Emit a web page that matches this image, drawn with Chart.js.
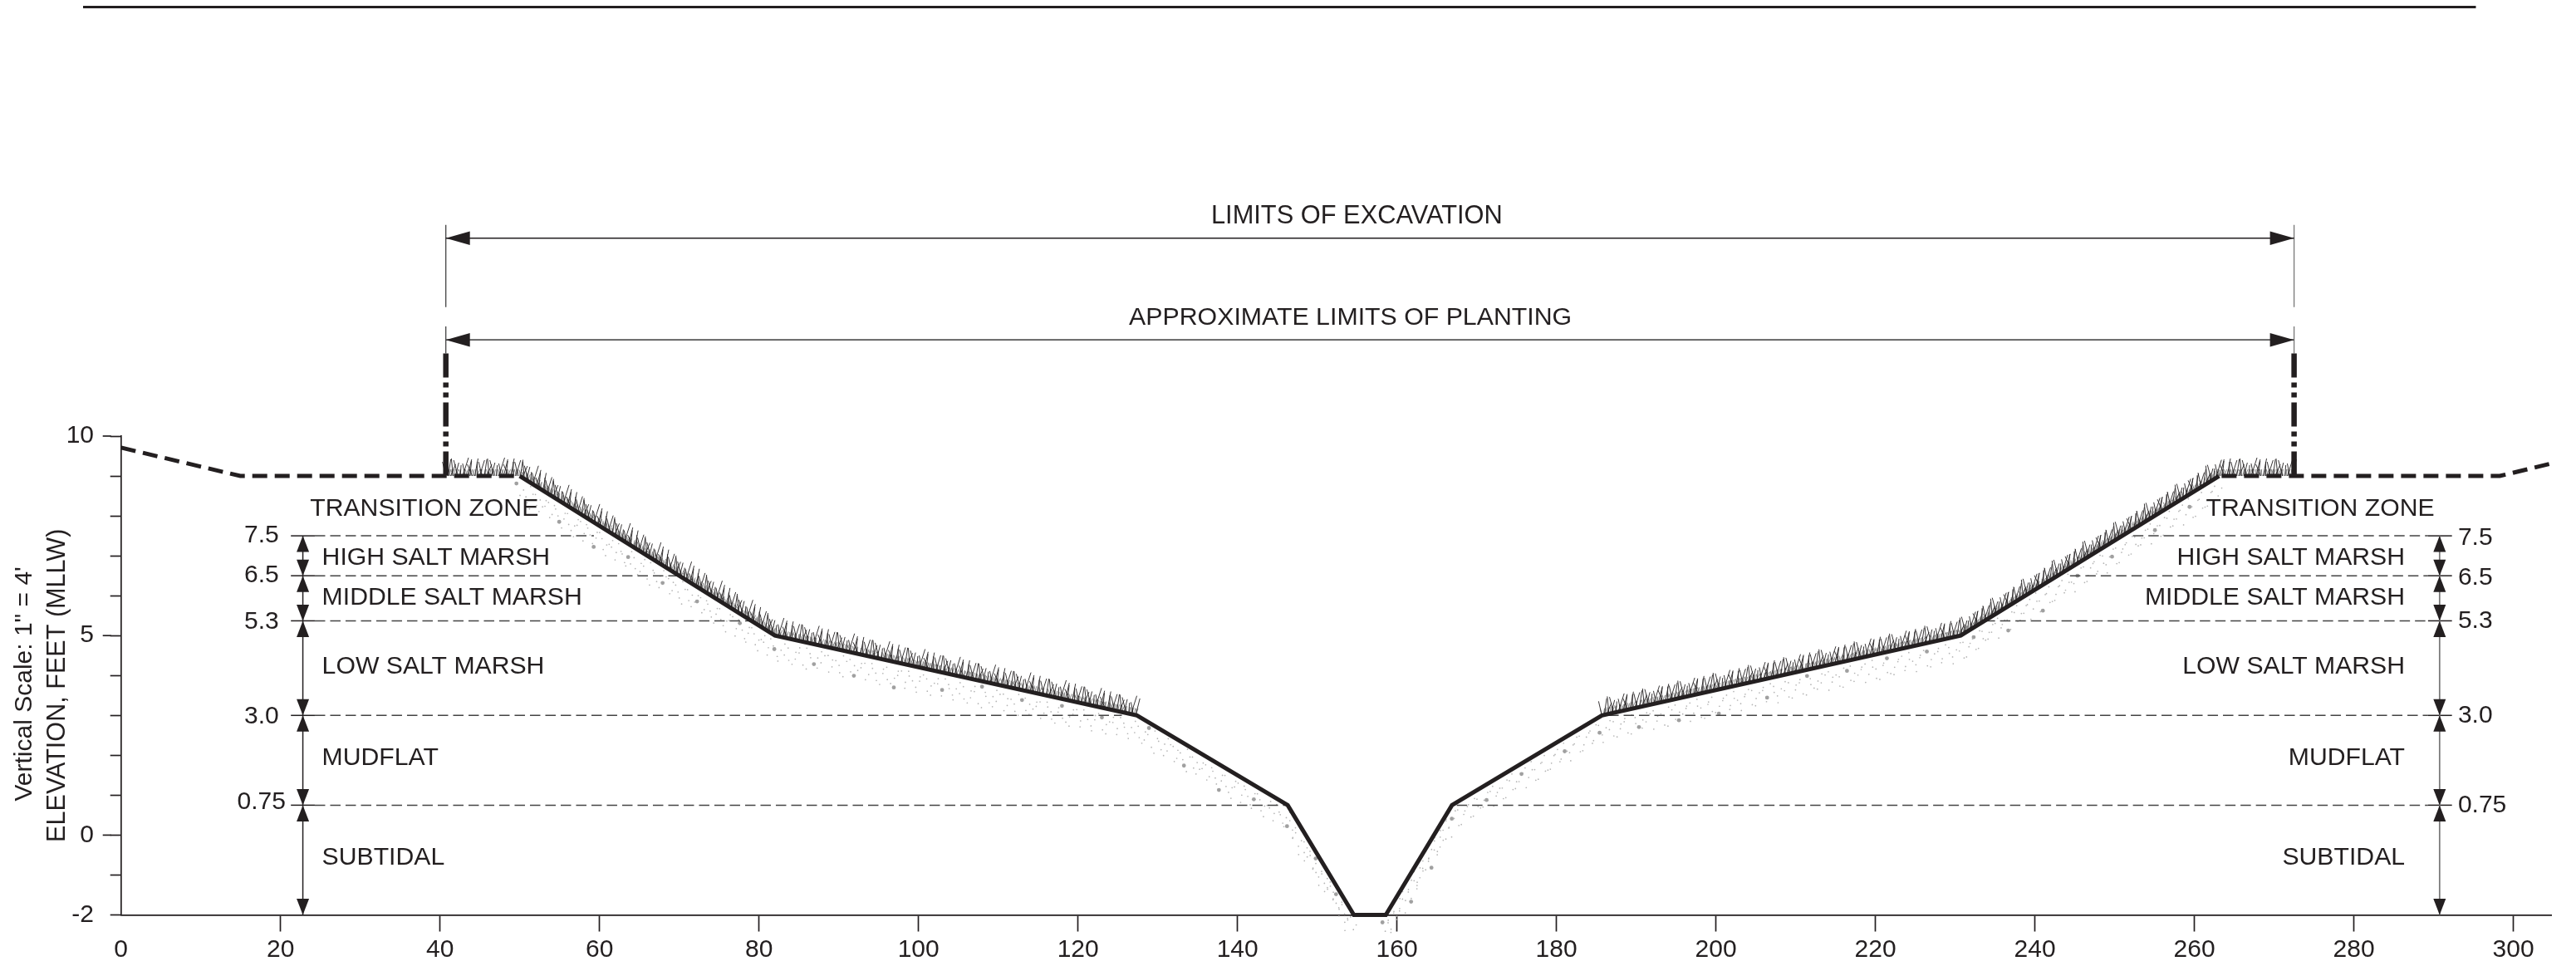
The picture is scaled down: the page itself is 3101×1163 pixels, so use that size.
<!DOCTYPE html>
<html>
<head>
<meta charset="utf-8">
<title>Marsh cross section</title>
<style>
    html, body { margin: 0; padding: 0; background: #fff; }
    canvas { display: block; }
</style>
<script src="https://cdn.jsdelivr.net/npm/chart.js@4"></script>
</head>
<body>
<canvas id="sectionChart" width="3101" height="1163" style="width:3101px;height:1163px"></canvas>
<script>
// Ground profile, feet along section / elevation in feet MLLW
const profileX = [50, 82, 127.4, 146.3, 154.6, 158.6, 166.9, 185.7, 230.7, 263.1];
const profileY = [9, 5, 3, 0.75, -2, -2, 0.75, 3, 5, 9];
const groundLeftX = [0, 14.95, 50];
const groundLeftY = [9.71, 9, 9];
const groundRightX = [263.1, 298.3, 304.7];
const groundRightY = [9, 9, 9.31];

// Planted stretches (the grass sits on these)
const grassLeftX = [40.73, 50, 82, 127.4];
const grassLeftY = [9, 9, 5, 3];
const grassRightX = [185.7, 230.7, 263.1, 272.5];
const grassRightY = [3, 5, 9, 9];

// Elevation bands (5.3 is drawn slightly high in the source, so 5.37 here)
const levels = [7.5, 6.5, 5.37, 3.0, 0.75];
const levelLabels = ['7.5', '6.5', '5.3', '3.0', '0.75'];
const levelEndLeft = [59.3, 70, 80, 125.5, 146];
const levelStartRight = [252.3, 244.4, 233.7, 186.5, 167.5];
const levelLabelYLeft = [7.5, 6.5, 5.35, 2.97, 0.83];
const levelLabelYRight = [7.44, 6.44, 5.36, 2.99, 0.75];
const bottomLevel = -2;
const arrowLeftX = 22.8;
const arrowRightX = 290.75;

// Limits
const limitLeftX = 40.73;
const limitRightX = 272.5;
const excavationY = 14.96;
const plantingY = 12.41;

const zonesLeft = ['TRANSITION ZONE', 'HIGH SALT MARSH', 'MIDDLE SALT MARSH', 'LOW SALT MARSH', 'MUDFLAT', 'SUBTIDAL'];
const zoneLeftX = [23.7, 25.2, 25.2, 25.2, 25.2, 25.2];
const zoneRightX = [290.1, 286.4, 286.4, 286.4, 286.4, 286.4];
const zoneY = [8.17, 6.94, 5.94, 4.23, 1.92, -0.57];

const xMax = 304.76;
const yTickLabels = [10, 5, 0, -2];
const yLongTicks = [10, 5, 0];

const ink = '#231f20';
const excavationFont = '30.8px "Liberation Sans"';
const plantingFont = '30.3px "Liberation Sans"';
const zoneFont = '30.2px "Liberation Sans"';
const numberFont = '30px "Liberation Sans"';

function points(xs, ys) {
    return xs.map((x, i) => ({ x: x, y: ys[i] }));
}

function line(data, width, color, dash, dashOffset) {
    return {
        data: data,
        showLine: true,
        borderWidth: width,
        borderColor: color || ink,
        borderDash: dash || [],
        borderDashOffset: dashOffset || 0,
        borderCapStyle: 'butt',
        borderJoinStyle: 'miter',
        pointRadius: 0,
        tension: 0,
        clip: false
    };
}

const datasets = [
    line(points(groundLeftX, groundLeftY), 5, ink, [18, 9]),
    line(points(groundRightX, groundRightY), 5, ink, [18, 9], 24),
    line(points(profileX, profileY), 5, ink),
    // limit of planting, dash-dot uprights
    line(points([limitLeftX, limitLeftX], [12.07, 9]), 6.5, ink, [29, 6, 6, 6, 6, 6]),
    line(points([limitRightX, limitRightX], [12.07, 9]), 6.5, ink, [29, 6, 6, 6, 6, 6]),
    // dimension lines and their witness lines
    line(points([limitLeftX, limitRightX], [excavationY, excavationY]), 1.5),
    line(points([limitLeftX, limitRightX], [plantingY, plantingY]), 1.7, '#555'),
    line(points([limitLeftX, limitLeftX], [15.29, 13.23]), 1.3, '#444'),
    line(points([limitRightX, limitRightX], [15.29, 13.23]), 1.3, '#777'),
    line(points([limitLeftX, limitLeftX], [12.75, 12.07]), 1.3, '#444'),
    line(points([limitRightX, limitRightX], [12.75, 12.07]), 1.3, '#777'),
    // vertical band arrows
    line(points([arrowLeftX, arrowLeftX], [levels[0], bottomLevel]), 1.5),
    line(points([arrowRightX, arrowRightX], [levels[0], bottomLevel]), 1.7, '#777'),
    // top rule
    line(points([-4.76, 295.3], [20.75, 20.75]), 3)
];

levels.forEach((lv, i) => {
    datasets.push(line(points([24.3, levelEndLeft[i]], [lv, lv]), 1.5, '#444', [12.5, 6]));
    datasets.push(line(points([levelStartRight[i], 289.3], [lv, lv]), 1.5, '#444', [12.5, 6]));
    datasets.push(line(points([21.3, 24.3], [lv, lv]), 1.5));
    datasets.push(line(points([289.3, 292.3], [lv, lv]), 1.5));
});

// walk along a polyline in pixels, calling fn every step px
function walk(chart, xs, ys, step, fn) {
    const sx = chart.scales.x, sy = chart.scales.y;
    let left = 0, n = 0;
    for (let i = 0; i < xs.length - 1; i++) {
        const x0 = sx.getPixelForValue(xs[i]), y0 = sy.getPixelForValue(ys[i]);
        const x1 = sx.getPixelForValue(xs[i + 1]), y1 = sy.getPixelForValue(ys[i + 1]);
        const len = Math.hypot(x1 - x0, y1 - y0);
        while (left <= len) {
            fn(x0 + (x1 - x0) * left / len, y0 + (y1 - y0) * left / len, n++);
            left += step;
        }
        left -= len;
    }
}

const bladeLean = [-4, 3, 6, -2, 4, -5, 1, 7, -3, 5, 2, -6, 4, 0, 6];
const bladeHeight = [17, 20, 14, 21, 16, 19, 13, 22, 15, 20, 18, 14, 21, 17, 19];
const stippleDepth = [4, 17, 9, 23, 2, 13, 26, 7, 19, 11, 3, 22, 15, 6, 25, 10];

function drawGrass(ctx, chart, xs, ys) {
    ctx.strokeStyle = '#8a8a8a';
    ctx.lineWidth = 1;
    walk(chart, xs, ys, 1.7, (x, y, n) => {
        ctx.beginPath();
        ctx.moveTo(x, y);
        ctx.lineTo(x + bladeLean[n % 15] * 0.5, y - 8);
        ctx.stroke();
    });
    ctx.strokeStyle = ink;
    ctx.lineWidth = 0.9;
    walk(chart, xs, ys, 2.9, (x, y, n) => {
        ctx.beginPath();
        ctx.moveTo(x, y);
        ctx.lineTo(x + bladeLean[n % 15], y - bladeHeight[n % 15]);
        ctx.stroke();
    });
}

function drawStipple(ctx, chart, xs, ys) {
    walk(chart, xs, ys, 2.7, (x, y, n) => {
        const big = n % 19 === 0;
        ctx.fillStyle = big ? '#a0a0a0' : '#b4b4b4';
        ctx.beginPath();
        ctx.arc(x - 4 + (n % 5) * 2, y + 5 + stippleDepth[n % 16], big ? 2.4 : 0.85, 0, Math.PI * 2);
        ctx.fill();
    });
}

function arrowHead(ctx, tipX, tipY, dirX, dirY, length, half) {
    ctx.beginPath();
    ctx.moveTo(tipX, tipY);
    ctx.lineTo(tipX - dirX * length - dirY * half, tipY - dirY * length - dirX * half);
    ctx.lineTo(tipX - dirX * length + dirY * half, tipY - dirY * length + dirX * half);
    ctx.closePath();
    ctx.fill();
}

const sectionMarks = {
    id: 'sectionMarks',
    beforeDatasetsDraw(chart) {
        const ctx = chart.ctx;
        ctx.save();
        drawStipple(ctx, chart, profileX.slice(0, 5), profileY.slice(0, 5));
        drawStipple(ctx, chart, profileX.slice(5), profileY.slice(5));
        drawGrass(ctx, chart, grassLeftX, grassLeftY);
        drawGrass(ctx, chart, grassRightX, grassRightY);
        ctx.restore();
    },
    afterDatasetsDraw(chart) {
        const ctx = chart.ctx;
        const sx = chart.scales.x, sy = chart.scales.y;
        ctx.save();

        // long ticks for the labelled elevations
        ctx.strokeStyle = ink;
        ctx.lineWidth = 1.7;
        yLongTicks.forEach(v => {
            const y = sy.getPixelForValue(v);
            ctx.beginPath();
            ctx.moveTo(sx.left - 22, y);
            ctx.lineTo(sx.left - 12, y);
            ctx.stroke();
        });

        // arrowheads
        ctx.fillStyle = ink;
        const exL = sx.getPixelForValue(limitLeftX), exR = sx.getPixelForValue(limitRightX);
        [excavationY, plantingY].forEach(v => {
            const y = sy.getPixelForValue(v);
            arrowHead(ctx, exL, y, -1, 0, 29, 8.3);
            arrowHead(ctx, exR, y, 1, 0, 29, 8.3);
        });
        [arrowLeftX, arrowRightX].forEach(v => {
            const x = sx.getPixelForValue(v);
            levels.forEach((lv, i) => {
                const y = sy.getPixelForValue(lv);
                arrowHead(ctx, x, y, 0, -1, 19.5, 7.5);
                if (i > 0) arrowHead(ctx, x, y, 0, 1, 19.5, 7.5);
            });
            arrowHead(ctx, x, sy.getPixelForValue(bottomLevel), 0, 1, 19.5, 7.5);
        });

        // text
        ctx.fillStyle = ink;
        ctx.textBaseline = 'middle';
        ctx.textAlign = 'left';
        ctx.font = excavationFont;
        ctx.fillText('LIMITS OF EXCAVATION', sx.getPixelForValue(136.7), sy.getPixelForValue(15.51));
        ctx.font = plantingFont;
        ctx.fillText('APPROXIMATE LIMITS OF PLANTING', sx.getPixelForValue(126.4), sy.getPixelForValue(12.96));
        ctx.font = zoneFont;
        zonesLeft.forEach((z, i) => {
            ctx.textAlign = 'left';
            ctx.fillText(z, sx.getPixelForValue(zoneLeftX[i]), sy.getPixelForValue(zoneY[i]));
            ctx.textAlign = 'right';
            ctx.fillText(z, sx.getPixelForValue(zoneRightX[i]), sy.getPixelForValue(zoneY[i]));
        });
        ctx.font = numberFont;
        levelLabels.forEach((t, i) => {
            ctx.textAlign = 'right';
            ctx.fillText(t, sx.getPixelForValue(t === '0.75' ? 20.65 : 19.8), sy.getPixelForValue(levelLabelYLeft[i]));
            ctx.textAlign = 'left';
            ctx.fillText(t, sx.getPixelForValue(293.05), sy.getPixelForValue(levelLabelYRight[i]));
        });

        // axis titles, rotated
        ctx.textAlign = 'center';
        [['Vertical Scale: 1" = 4\'', -12.1, 3.79, '30px "Liberation Sans"'],
         ['ELEVATION, FEET (MLLW)', -7.95, 3.75, '30.6px "Liberation Sans"']].forEach(t => {
            ctx.save();
            ctx.font = t[3];
            ctx.translate(sx.getPixelForValue(t[1]), sy.getPixelForValue(t[2]));
            ctx.rotate(-Math.PI / 2);
            ctx.fillText(t[0], 0, 0);
            ctx.restore();
        });
        ctx.restore();
    }
};

new Chart(document.getElementById('sectionChart'), {
    type: 'scatter',
    data: { datasets: datasets },
    plugins: [sectionMarks],
    options: {
        responsive: false,
        animation: false,
        devicePixelRatio: 1,
        layout: { padding: { left: 0, right: 29.7, top: 525, bottom: 0 } },
        plugins: { legend: { display: false }, tooltip: { enabled: false }, title: { display: false } },
        scales: {
            x: {
                type: 'linear',
                min: 0,
                max: xMax,
                afterFit: scale => { scale.height = 61.5; },
                border: { color: ink, width: 1.7 },
                grid: {
                    drawOnChartArea: false,
                    tickLength: 20,
                    tickWidth: 1.7,
                    tickColor: c => c.tick && c.tick.value === 0 ? 'rgba(0,0,0,0)' : ink
                },
                ticks: {
                    stepSize: 20,
                    includeBounds: false,
                    autoSkip: false,
                    maxRotation: 0,
                    color: ink,
                    padding: 4,
                    font: { family: 'Liberation Sans', size: 30 }
                }
            },
            y: {
                type: 'linear',
                min: -2,
                max: 10,
                afterFit: scale => { scale.width = 145.7; },
                border: { color: ink, width: 1.7 },
                grid: {
                    drawOnChartArea: false,
                    tickLength: 13,
                    tickWidth: 1.7,
                    tickColor: ink
                },
                ticks: {
                    stepSize: 1,
                    autoSkip: false,
                    color: ink,
                    padding: 19.7,
                    font: { family: 'Liberation Sans', size: 30 },
                    callback: v => yTickLabels.includes(v) ? String(v) : ''
                }
            }
        }
    }
});
</script>
</body>
</html>
